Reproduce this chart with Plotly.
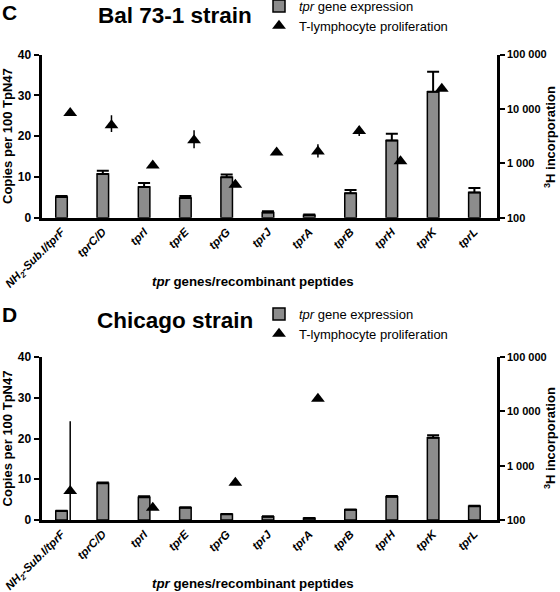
import plotly.graph_objects as go

# ---------------- data ----------------
categories = ["NH<sub>2</sub>-Sub.I/tprF", "tprC/D", "tprI", "tprE", "tprG", "tprJ",
              "tprA", "tprB", "tprH", "tprK", "tprL"]

# Panel C: Bal 73-1 strain
bal_expr = [5.1, 10.7, 7.5, 4.8, 9.9, 1.3, 0.6, 6.0, 18.9, 30.9, 6.2]
bal_expr_err = [0.2, 0.8, 1.0, 0.5, 0.7, 0.3, 0.2, 0.8, 1.7, 4.9, 1.1]
bal_prolif = [8450, 4990, 908, 2660, 405, 1585, 1650, 3930, 1087, 23500, None]
bal_prolif_err_up = [0, 2690, 0, 1390, 0, 0, 600, 910, 0, 0, None]
bal_prolif_err_down = [0, 1220, 0, 760, 0, 0, 365, 740, 0, 0, None]

# Panel D: Chicago strain
chi_expr = [2.2, 9.0, 5.6, 3.0, 1.4, 0.8, 0.4, 2.5, 5.7, 20.2, 3.4]
chi_expr_err = [0.1, 0.2, 0.2, 0.1, 0.1, 0.1, 0.1, 0.1, 0.2, 0.6, 0.1]
chi_prolif = [340, None, 168, None, 483, None, 17100, None, None, None, None]
chi_prolif_err_up = [6210, None, 0, None, 0, None, 0, None, None, None, None]
chi_prolif_err_down = [240, None, 0, None, 0, None, 0, None, None, None, None]

left_ticks = [0, 10, 20, 30, 40]
right_tickvals = [100, 1000, 10000, 100000]
right_ticktext = ["100", "1 000", "10 000", "100 000"]

FONT = "Liberation Sans, Arial, sans-serif"
BAR_COLOR = "#8c8c8c"
TRI_OFFSET = 0.21

fig = go.Figure()


def add_panel(expr, expr_err, prolif, up, down, xa, ya_left, ya_right, legend):
    idx = list(range(len(categories)))
    fig.add_trace(go.Bar(
        x=idx, y=expr, width=0.28,
        marker=dict(color=BAR_COLOR, line=dict(color="black", width=1.5)),
        error_y=dict(type="data", symmetric=False, array=expr_err,
                     arrayminus=[0] * len(expr_err), color="black",
                     thickness=2, width=6),
        name="<i>tpr</i> gene expression",
        xaxis=xa, yaxis=ya_left, legend=legend, showlegend=True,
    ))
    pts = [(i + TRI_OFFSET, v, u, d) for i, v, u, d in zip(idx, prolif, up, down) if v is not None]
    fig.add_trace(go.Scatter(
        x=[p[0] for p in pts], y=[p[1] for p in pts], mode="markers",
        marker=dict(symbol="triangle-up", size=12, color="black"),
        error_y=dict(type="data", symmetric=False,
                     array=[p[2] for p in pts], arrayminus=[p[3] for p in pts],
                     color="black", thickness=1.5, width=0),
        name="T-lymphocyte proliferation",
        xaxis=xa, yaxis=ya_right, legend=legend, showlegend=True,
    ))


add_panel(bal_expr, bal_expr_err, bal_prolif, bal_prolif_err_up, bal_prolif_err_down,
          "x", "y", "y2", "legend")
add_panel(chi_expr, chi_expr_err, chi_prolif, chi_prolif_err_up, chi_prolif_err_down,
          "x2", "y3", "y4", "legend2")

W, H = 560, 592
xdom = [41.5 / W, 496.7 / W]
c_dom = [(H - 217.7) / H, (H - 54.5) / H]
d_dom = [(H - 520) / H, (H - 357) / H]

xcommon = dict(
    domain=xdom, range=[-0.485, 10.54], tickmode="array",
    tickvals=list(range(len(categories))), ticktext=categories,
    tickangle=-45, ticklabeloverflow="allow", automargin=False,
    tickfont=dict(family=FONT, size=11.5, weight="bold", style="italic", color="black"),
    showline=True, linewidth=3, linecolor="black", ticks="", showgrid=False, zeroline=False,
)
lcommon = dict(
    range=[0, 40], tickmode="array", tickvals=left_ticks, ticks="outside",
    ticklen=5, tickwidth=2, tickcolor="black", showline=True, linewidth=3,
    linecolor="black", showgrid=False, zeroline=False, automargin=False,
    tickfont=dict(family=FONT, size=12, weight="bold", color="black"),
    title=dict(text="Copies per 100 TpN47", font=dict(family=FONT, size=13, weight="bold", color="black"), standoff=8),
)
rcommon = dict(
    type="log", range=[2, 5], side="right", tickmode="array",
    tickvals=right_tickvals, ticktext=right_ticktext, ticks="outside",
    ticklen=5, tickwidth=2, tickcolor="black", showline=True, linewidth=3,
    linecolor="black", showgrid=False, zeroline=False, automargin=False,
    tickfont=dict(family=FONT, size=11, weight="bold", color="black"),
)

fig.update_layout(
    width=W, height=H, margin=dict(l=0, r=0, t=0, b=0, autoexpand=False),
    plot_bgcolor="white", paper_bgcolor="white",
    font=dict(family=FONT, color="black"),
    barmode="overlay",
    xaxis=dict(xcommon, anchor="y"),
    xaxis2=dict(xcommon, anchor="y3"),
    yaxis=dict(lcommon, domain=c_dom, anchor="x"),
    yaxis2=dict(rcommon, domain=c_dom, anchor="x", overlaying="y"),
    yaxis3=dict(lcommon, domain=d_dom, anchor="x2"),
    yaxis4=dict(rcommon, domain=d_dom, anchor="x2", overlaying="y3"),
    legend=dict(x=259 / W, y=1 + 9 / H, xanchor="left", yanchor="top",
                font=dict(family=FONT, size=13, color="black"),
                bgcolor="rgba(0,0,0,0)", tracegroupgap=0),
    legend2=dict(x=259 / W, y=1 - 299 / H, xanchor="left", yanchor="top",
                 font=dict(family=FONT, size=13, color="black"),
                 bgcolor="rgba(0,0,0,0)", tracegroupgap=0),
)

ann = [
    dict(text="C", x=0, y=1 - 12 / H, xanchor="left", yanchor="middle", size=21, angle=0),
    dict(text="Bal 73-1 strain", x=175 / W, y=1 - 16 / H, xanchor="center", yanchor="middle", size=22.5, angle=0),
    dict(text="D", x=0, y=1 - 314 / H, xanchor="left", yanchor="middle", size=21, angle=0),
    dict(text="Chicago strain", x=175 / W, y=1 - 320 / H, xanchor="center", yanchor="middle", size=22.5, angle=0),
    dict(text="<i>tpr</i> genes/recombinant peptides", x=253 / W, y=1 - 281 / H,
         xanchor="center", yanchor="middle", size=13.3, angle=0),
    dict(text="<i>tpr</i> genes/recombinant peptides", x=253 / W, y=1 - 583 / H,
         xanchor="center", yanchor="middle", size=13.3, angle=0),
    dict(text="<sup>3</sup>H incorporation", x=550 / W, y=1 - 137 / H,
         xanchor="center", yanchor="middle", size=13, angle=-90),
    dict(text="<sup>3</sup>H incorporation", x=550 / W, y=1 - 438 / H,
         xanchor="center", yanchor="middle", size=13, angle=-90),
]
for a in ann:
    fig.add_annotation(text=a["text"], x=a["x"], y=a["y"], xref="paper", yref="paper",
                       xanchor=a["xanchor"], yanchor=a["yanchor"], showarrow=False,
                       textangle=a["angle"],
                       font=dict(family=FONT, size=a["size"], weight="bold", color="black"))

fig.write_html("out.html", config={"displayModeBar": False},
               post_script="document.body.style.margin='0';")
